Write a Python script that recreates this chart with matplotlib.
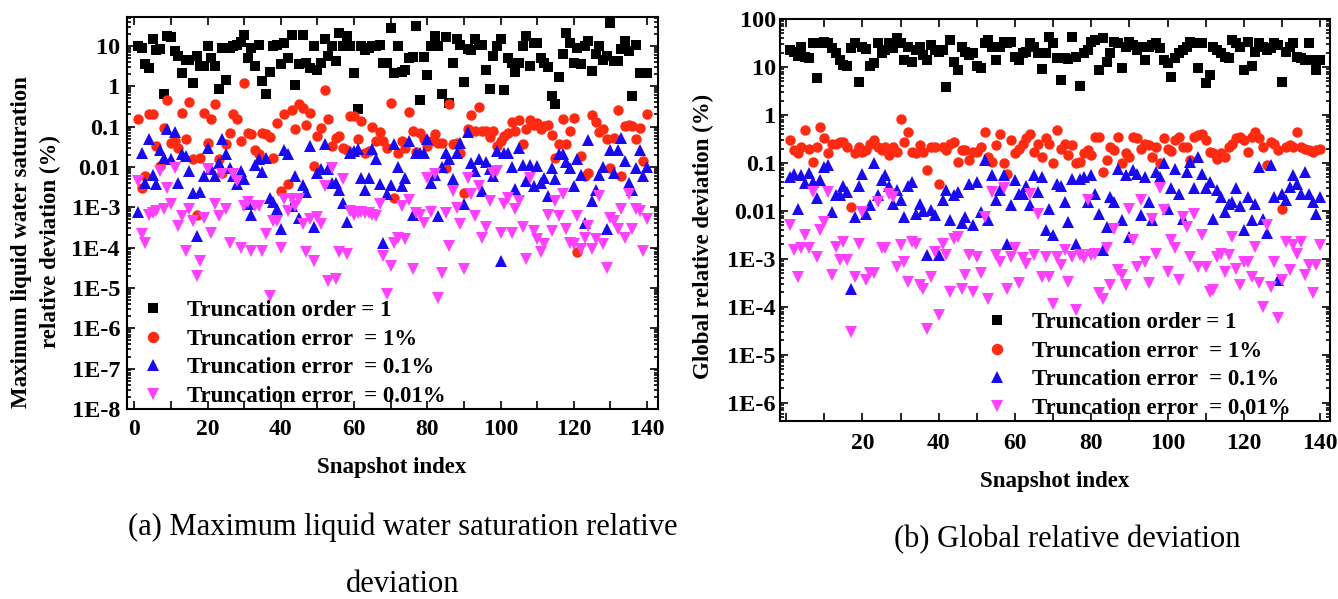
import numpy as np
import matplotlib
matplotlib.use('Agg')
import matplotlib.pyplot as plt
from matplotlib.ticker import MultipleLocator, LogLocator, NullFormatter

plt.rcParams['font.family'] = ['Liberation Serif', 'DejaVu Serif']

# snapshot index shared by all series
snapshots = np.arange(1, 141)

# values, stored as log10 of the deviation in %
# panel (a): maximum liquid water saturation relative deviation
a_order1_log = [
    0.99, 0.95, 0.54, 0.45, 1.17, 0.89, 0.92, -0.18, 1.24, 1.22,
    0.87, 0.74, 0.33, 0.66, 0.66, 0.07, 0.76, 0.50, 0.50, 0.99,
    0.70, 0.50, -0.06, 0.95, 0.15, 0.95, 0.99, 1.03, 1.10, 1.28,
    0.70, 0.95, 0.50, 1.03, 0.13, -0.18, 0.36, 0.99, 1.03, 0.55,
    1.07, 0.70, 1.28, 0.04, 0.56, 1.28, 0.58, 0.46, 0.99, 0.40,
    0.58, 1.16, 0.76, 0.99, 0.62, 1.32, 0.99, 1.24, 1.00, 0.32,
    -0.56, 0.99, 0.91, 0.95, 0.99, 1.00, 1.03, 0.58, 0.58, 1.45,
    0.33, 0.99, 0.35, 0.40, 0.70, 0.73, 1.50, -0.35, 0.73, 0.27,
    0.99, 1.24, 0.99, -0.20, 1.22, -0.41, 0.58, 1.17, 1.01, 0.10,
    0.93, 0.91, 1.16, 1.03, 1.03, 0.40, -0.06, 0.76, 0.99, 1.16,
    -0.10, 0.70, 0.58, 0.35, 0.58, 0.99, 1.24, 0.51, 1.07, 1.06,
    0.70, 0.58, 0.48, -0.23, -0.43, 0.23, 0.79, 1.31, 1.06, 0.58,
    0.95, 0.54, 0.99, 1.12, 0.37, 0.79, 0.99, 0.66, 0.74, 1.57,
    0.62, 0.62, 0.93, 1.12, 0.87, -0.25, 1.03, 0.33, 0.32, 0.32,
]
a_err1_log = [
    -0.82, -2.52, -2.23, -0.70, -0.70, -1.48, -1.98, -1.03, -0.33, -1.40,
    -1.36, -1.52, -0.66, -1.30, -0.39, -1.81, -3.18, -1.77, -0.66, -1.40,
    -0.82, -0.45, -1.81, -2.14, -1.44, -1.15, -0.70, -0.81, -1.36, 0.08,
    -1.15, -1.19, -1.58, -1.69, -1.15, -1.19, -1.25, -1.77, -0.91, -2.60,
    -0.70, -2.43, -0.58, -1.05, -0.45, -0.55, -0.95, -0.66, -1.98, -1.24,
    -1.03, -0.10, -0.82, -1.48, -1.28, -1.24, -1.52, -1.57, -0.74, -0.74,
    -1.30, -0.86, -1.65, -1.60, -1.00, -1.36, -1.14, -1.36, -1.52, -0.41,
    -2.76, -1.65, -1.36, -1.52, -0.64, -1.11, -1.63, -1.15, -1.30, -1.48,
    -1.36, -1.19, -1.40, -1.40, -2.02, -0.43, -1.44, -1.40, -1.65, -2.64,
    -1.07, -0.72, -1.11, -0.51, -1.11, -1.11, -1.25, -1.11, -1.48, -1.36,
    -1.24, -1.15, -0.89, -1.11, -0.84, -1.44, -1.05, -0.84, -0.95, -0.91,
    -1.07, -0.99, -0.97, -1.20, -1.77, -1.44, -0.81, -1.44, -1.10, -0.78,
    -4.12, -1.73, -2.23, -2.14, -0.72, -0.89, -1.14, -1.07, -1.32, -2.02,
    -1.28, -0.59, -2.23, -0.99, -0.97, -0.99, -1.30, -1.03, -1.85, -0.70,
]
a_err01_log = [
    -3.12, -1.65, -2.39, -1.32, -2.19, -2.43, -1.57, -1.77, -1.07, -1.80,
    -1.14, -2.41, -1.69, -1.73, -2.10, -2.64, -3.70, -2.62, -2.23, -1.52,
    -2.06, -2.23, -1.90, -1.30, -1.69, -2.02, -2.23, -2.43, -2.10, -2.31,
    -2.93, -3.18, -1.94, -1.81, -2.13, -1.77, -2.76, -2.87, -3.05, -3.55,
    -1.58, -1.69, -2.97, -2.23, -3.26, -2.46, -2.62, -1.48, -3.50, -2.14,
    -2.04, -1.44, -2.06, -2.39, -2.41, -2.56, -2.89, -3.36, -1.65, -1.60,
    -1.55, -2.27, -2.56, -2.27, -1.55, -1.81, -2.43, -3.89, -2.68, -2.46,
    -1.44, -1.99, -2.47, -2.27, -1.36, -3.20, -1.65, -1.65, -1.65, -1.32,
    -2.41, -2.21, -3.22, -2.00, -1.65, -1.81, -2.30, -1.65, -1.40, -2.93,
    -1.14, -1.90, -2.10, -1.81, -2.60, -1.88, -2.06, -2.23, -1.61, -4.33,
    -1.65, -1.65, -2.00, -2.54, -1.52, -1.94, -2.35, -1.96, -2.47, -1.98,
    -2.39, -2.27, -2.72, -2.02, -2.31, -1.69, -1.69, -1.88, -2.02, -2.47,
    -1.81, -2.19, -3.38, -1.34, -2.85, -2.56, -2.20, -1.99, -3.53, -1.57,
    -2.14, -1.57, -1.28, -1.85, -2.39, -2.56, -2.02, -1.57, -2.23, -2.00,
]
a_err001_log = [
    -2.35, -3.67, -3.88, -3.18, -3.13, -3.09, -2.10, -3.05, -2.52, -2.93,
    -2.02, -3.46, -3.22, -4.08, -3.05, -3.34, -4.70, -4.33, -3.26, -2.06,
    -3.63, -2.93, -3.22, -2.18, -3.05, -3.88, -2.18, -2.35, -4.00, -2.97,
    -2.87, -4.08, -2.97, -2.97, -4.08, -3.67, -5.20, -3.34, -3.34, -4.00,
    -2.80, -3.09, -2.80, -2.97, -2.80, -3.42, -4.12, -3.30, -4.33, -3.23,
    -3.42, -2.47, -4.83, -2.02, -4.78, -4.12, -2.31, -4.17, -3.09, -3.20,
    -3.13, -3.12, -3.13, -3.13, -3.18, -3.22, -2.93, -4.21, -5.16, -4.45,
    -3.88, -3.75, -2.97, -3.79, -2.82, -4.54, -3.13, -3.18, -3.40, -2.27,
    -3.12, -2.18, -5.24, -4.62, -3.13, -3.96, -2.60, -3.01, -3.42, -4.54,
    -2.27, -2.68, -3.22, -2.47, -3.75, -3.50, -2.85, -2.14, -2.10, -3.63,
    -2.93, -2.76, -3.63, -3.05, -2.85, -3.50, -4.29, -2.27, -3.59, -3.79,
    -4.12, -3.92, -3.18, -3.59, -2.85, -3.22, -2.68, -3.53, -3.88, -3.92,
    -3.22, -4.04, -3.75, -3.46, -4.04, -3.79, -2.72, -3.92, -4.50, -3.26,
    -3.34, -3.55, -3.05, -3.75, -2.68, -3.55, -3.05, -3.09, -4.08, -3.30,
]

# panel (b): global relative deviation
b_order1_log = [
    1.35, 1.32, 1.22, 1.41, 1.20, 1.18, 1.49, 0.76, 1.51, 1.53,
    1.49, 1.39, 1.29, 1.15, 1.04, 1.01, 1.39, 1.51, 0.69, 1.42,
    1.37, 1.01, 1.08, 1.49, 1.29, 1.35, 1.49, 1.39, 1.60, 1.49,
    1.15, 1.42, 1.11, 1.35, 1.42, 1.25, 1.15, 1.46, 1.35, 1.32,
    1.35, 0.58, 1.56, 1.11, 0.94, 1.42, 1.32, 1.25, 1.29, 1.01,
    0.97, 1.49, 1.56, 1.42, 1.15, 1.42, 1.53, 1.49, 1.53, 1.21,
    1.15, 1.29, 1.32, 1.49, 1.42, 1.29, 0.95, 1.29, 1.63, 1.49,
    1.18, 0.73, 1.18, 1.16, 1.63, 1.21, 0.60, 1.29, 1.35, 1.53,
    1.56, 0.94, 1.60, 1.11, 1.29, 1.53, 1.49, 0.97, 1.42, 1.53,
    1.46, 1.35, 1.42, 1.15, 1.42, 1.46, 1.49, 1.40, 1.15, 1.08,
    0.79, 1.18, 1.29, 1.35, 1.42, 1.53, 1.49, 0.97, 1.49, 0.66,
    0.83, 1.42, 1.35, 1.29, 1.21, 1.18, 1.56, 1.49, 1.42, 0.94,
    1.53, 1.01, 1.32, 1.49, 1.42, 1.35, 1.39, 1.49, 1.46, 0.69,
    1.32, 1.42, 1.49, 1.21, 1.18, 1.15, 1.49, 1.15, 0.94, 1.15,
]
b_err1_log = [
    -0.53, -0.74, -0.80, -0.67, -0.32, -0.70, -0.98, -0.67, -0.25, -0.49,
    -0.80, -0.60, -0.60, -0.56, -0.56, -0.67, -1.92, -0.80, -0.67, -0.77,
    -0.74, -0.60, -0.53, -0.67, -0.74, -0.67, -0.84, -0.67, -0.77, -0.08,
    -0.56, -0.35, -0.77, -0.80, -0.63, -0.77, -1.15, -0.67, -0.67, -1.43,
    -0.67, -0.74, -0.60, -0.56, -0.98, -0.74, -0.74, -0.94, -0.77, -0.77,
    -0.67, -0.35, -0.87, -0.98, -0.63, -0.39, -1.01, -1.22, -0.53, -0.80,
    -0.70, -0.60, -0.49, -0.39, -0.77, -0.60, -0.87, -0.49, -0.60, -1.01,
    -0.32, -0.70, -0.60, -0.84, -0.63, -1.01, -0.98, -0.80, -0.74, -0.84,
    -0.46, -0.46, -1.19, -0.94, -0.67, -0.74, -0.46, -1.01, -0.80, -0.87,
    -0.46, -0.49, -0.70, -0.60, -0.63, -0.87, -0.67, -1.01, -0.49, -0.70,
    -0.75, -0.53, -0.46, -0.67, -0.67, -0.94, -0.46, -0.42, -0.39, -0.53,
    -0.77, -0.80, -0.91, -0.80, -0.87, -0.67, -0.60, -0.49, -0.46, -0.53,
    -0.77, -0.46, -0.35, -0.49, -0.67, -1.04, -0.56, -0.60, -0.74, -1.95,
    -0.67, -0.63, -0.67, -0.35, -0.67, -0.70, -0.74, -0.77, -0.74, -0.70,
]
b_err01_log = [
    -1.29, -1.22, -1.95, -1.26, -1.42, -1.21, -1.40, -1.74, -1.36, -1.08,
    -1.05, -2.02, -1.67, -1.67, -1.47, -1.60, -3.62, -2.12, -1.47, -1.22,
    -2.06, -1.88, -1.01, -1.67, -1.36, -1.26, -1.47, -1.85, -1.57, -1.78,
    -2.12, -1.47, -1.40, -2.06, -1.85, -2.00, -2.92, -1.99, -2.09, -2.92,
    -1.78, -1.57, -2.19, -1.67, -1.60, -2.26, -2.12, -1.43, -2.30, -1.40,
    -2.02, -0.93, -2.19, -1.26, -1.78, -1.57, -1.26, -2.68, -1.88, -1.36,
    -1.64, -1.64, -1.47, -1.88, -1.26, -1.60, -1.29, -2.40, -1.95, -2.51,
    -1.43, -1.47, -1.81, -2.23, -1.33, -2.68, -1.33, -1.29, -1.81, -1.26,
    -1.64, -2.06, -2.82, -2.33, -1.71, -1.81, -1.12, -2.19, -1.26, -2.54,
    -1.15, -1.22, -2.09, -1.29, -1.81, -2.19, -1.19, -1.29, -1.01, -1.95,
    -1.53, -1.12, -1.64, -2.16, -1.19, -0.98, -1.53, -0.87, -1.22, -1.53,
    -1.40, -2.16, -1.57, -1.71, -2.02, -1.85, -1.81, -1.53, -1.90, -2.40,
    -1.71, -2.19, -1.85, -1.08, -2.16, -2.47, -1.05, -1.71, -3.44, -1.64,
    -1.78, -1.50, -1.26, -1.43, -1.64, -1.19, -1.64, -1.81, -2.06, -1.70,
]
b_err001_log = [
    -2.30, -2.82, -3.38, -2.78, -2.51, -2.78, -1.60, -2.96, -2.40, -2.23,
    -1.60, -3.34, -2.75, -3.03, -2.65, -3.03, -4.52, -3.38, -2.68, -2.02,
    -3.44, -3.30, -3.30, -1.81, -2.78, -2.78, -1.64, -1.71, -3.17, -2.71,
    -3.06, -3.48, -2.65, -2.68, -3.55, -3.62, -4.45, -3.38, -2.85, -4.17,
    -2.68, -2.92, -3.69, -2.58, -2.54, -3.62, -3.34, -2.92, -3.69, -2.96,
    -3.30, -2.12, -3.83, -1.60, -2.92, -3.06, -1.53, -3.62, -2.96, -2.78,
    -3.51, -2.99, -3.10, -1.64, -2.92, -2.06, -3.38, -2.96, -3.38, -3.93,
    -2.96, -3.13, -2.82, -3.48, -2.96, -4.07, -2.92, -2.99, -1.78, -2.92,
    -2.89, -3.72, -3.83, -2.78, -3.55, -2.37, -3.24, -3.34, -3.55, -1.95,
    -2.61, -3.17, -1.78, -3.06, -3.51, -2.16, -2.90, -1.53, -1.99, -3.27,
    -2.61, -2.78, -3.44, -2.12, -2.33, -2.96, -2.06, -3.17, -2.51, -3.17,
    -3.69, -3.65, -2.96, -2.89, -3.27, -2.92, -2.54, -3.20, -3.55, -3.06,
    -3.06, -3.38, -2.75, -3.51, -4.00, -2.30, -3.58, -3.06, -4.24, -3.44,
    -2.65, -3.24, -2.71, -2.90, -2.65, -3.34, -3.13, -3.72, -3.13, -2.70,
]

series_labels = ['Truncation order = 1', 'Truncation error  = 1%',
                 'Truncation error  = 0.1%', 'Truncation error  = 0.01%']
markers = ['s', 'o', '^', 'v']
colors = ['#000000', '#ff2a12', '#1a0af0', '#ff40ff']
msizes = [6.5, 7.5, 8.0, 8.0]

a_ticks = [1e1, 1e0, 1e-1, 1e-2, 1e-3, 1e-4, 1e-5, 1e-6, 1e-7, 1e-8]
a_ticklabels = ['10', '1', '0.1', '0.01', '1E-3', '1E-4', '1E-5', '1E-6', '1E-7', '1E-8']
b_ticks = [1e2, 1e1, 1e0, 1e-1, 1e-2, 1e-3, 1e-4, 1e-5, 1e-6]
b_ticklabels = ['100', '10', '1', '0.1', '0.01', '1E-3', '1E-4', '1E-5', '1E-6']

bold = dict(fontweight='bold')

fig = plt.figure(figsize=(13.38, 5.99), dpi=100)
ax_a = fig.add_axes([0.0949, 0.3172, 0.3969, 0.6544])
ax_b = fig.add_axes([0.5830, 0.2972, 0.4111, 0.6711])


def style_axis(ax, xlim, ylim, yticks, yticklabels, xticks, xpad, ypad):
    ax.set_yscale('log')
    ax.set_xlim(*xlim)
    ax.set_ylim(*ylim)
    ax.set_yticks(yticks)
    ax.set_yticklabels(yticklabels)
    ax.yaxis.set_minor_locator(LogLocator(base=10, subs=np.arange(2, 10), numticks=30))
    ax.yaxis.set_minor_formatter(NullFormatter())
    ax.set_xticks(xticks)
    ax.xaxis.set_minor_locator(MultipleLocator(10))
    ax.tick_params(which='both', direction='in', top=True, right=True, width=1.2)
    ax.tick_params(which='major', length=6)
    ax.tick_params(which='minor', length=3)
    ax.tick_params(axis='x', which='minor', length=6)
    ax.tick_params(axis='x', pad=xpad, labelsize=17)
    ax.tick_params(axis='y', pad=ypad, labelsize=17.5)
    for lab in ax.get_xticklabels() + ax.get_yticklabels():
        lab.set_fontweight('bold')
    for sp in ax.spines.values():
        sp.set_linewidth(1.5)


panels = [
    (ax_a, [a_order1_log, a_err1_log, a_err01_log, a_err001_log]),
    (ax_b, [b_order1_log, b_err1_log, b_err01_log, b_err001_log]),
]
for ax, data in panels:
    for vals, lab, mk, col, ms in zip(data, series_labels, markers, colors, msizes):
        ax.plot(snapshots, 10 ** np.array(vals), linestyle='none', marker=mk,
                color=col, markersize=ms, markeredgewidth=0, label=lab)

style_axis(ax_a, (-2, 143), (1e-8, 52), a_ticks, a_ticklabels,
           [0, 20, 40, 60, 80, 100, 120, 140], 7, 5)
style_axis(ax_b, (-1.6, 142.6), (4.2e-7, 100), b_ticks, b_ticklabels,
           [20, 40, 60, 80, 100, 120, 140], 9, 3)

leg_kw = dict(frameon=False, loc='upper left', borderpad=0, borderaxespad=0,
              handlelength=1.0, handletextpad=1.0, labelspacing=0.33,
              prop={'weight': 'bold', 'size': 16.5}, markerscale=1.1)
ax_a.legend(bbox_to_anchor=(0.0275, 0.278), **leg_kw)
ax_b.legend(bbox_to_anchor=(0.374, 0.271), **leg_kw)

# axis titles
fig.text(36 / 1338, 1 - 242 / 599, 'Maximum liquid water saturation\nrelative deviation (%)',
         rotation=90, ha='center', va='center', fontsize=16.5, linespacing=1.45,
         multialignment='center', **bold)
fig.text(703 / 1338, 1 - 236 / 599, 'Global relative deviation (%)',
         rotation=90, ha='center', va='center', fontsize=16.5, **bold)
fig.text(392 / 1338, 1 - 468 / 599, 'Snapshot index', ha='center', va='center',
         fontsize=16.5, **bold)
fig.text(1055 / 1338, 1 - 482 / 599, 'Snapshot index', ha='center', va='center',
         fontsize=16.5, **bold)

# captions
fig.text(403 / 1338, 1 - 527 / 599, '(a) Maximum liquid water saturation relative',
         ha='center', va='center', fontsize=22)
fig.text(403 / 1338, 1 - 585 / 599, 'deviation', ha='center', va='center', fontsize=22)
fig.text(1067 / 1338, 1 - 540 / 599, '(b) Global relative deviation',
         ha='center', va='center', fontsize=22)

fig.savefig('out.png', dpi=100)
